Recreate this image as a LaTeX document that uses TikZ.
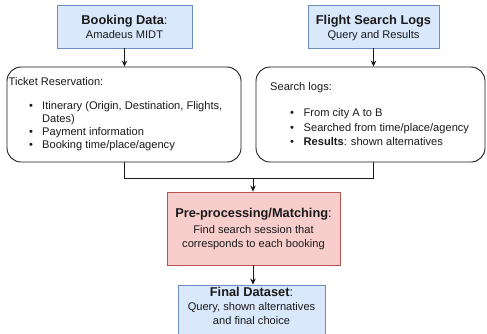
\documentclass[tikz,border=0pt]{standalone}
\usepackage{fontspec}
\setmainfont{Liberation Sans}
\usetikzlibrary{arrows.meta}
\definecolor{bluefill}{HTML}{DAE8FC}
\definecolor{blueline}{HTML}{6C8EBF}
\definecolor{redfill}{HTML}{F8CECC}
\definecolor{redline}{HTML}{B85450}
\definecolor{ink}{HTML}{1A1A1A}
\tikzset{
  box/.style={draw, line width=0.9pt, inner sep=0pt, minimum width=#1},
  bluebox/.style={box=#1, draw=blueline, fill=bluefill},
  redbox/.style={box=#1, draw=redline, fill=redfill},
  roundbox/.style={box=#1, draw=ink, fill=white, rounded corners=14pt},
  txt/.style={text=ink, inner sep=0pt, anchor=mid, font=\fontsize{11.1}{13}\selectfont},
  ttl/.style={text=ink, inner sep=0pt, anchor=mid, font=\fontsize{12.8}{15}\selectfont},
  item/.style={txt, anchor=mid west},
  conn/.style={draw=ink, line width=0.8pt},
  arr/.style={conn, -{Stealth[length=6pt,width=5.5pt]}}
}
\begin{document}
\begin{tikzpicture}[x=1pt,y=-1pt]
\useasboundingbox (0,0) rectangle (487,333);
\clip (0,0) rectangle (487,333);

% source boxes
\node[bluebox=135pt, minimum height=43pt] (book) at (124.5,26.5) {};
\node[ttl] (bookA) at (124.5,22) {\bfseries Booking Data\normalfont:};
\node[txt] (bookB) at (124.5,36) {Amadeus MIDT};

\node[bluebox=131pt, minimum height=43pt] (flight) at (373.5,26.5) {};
\node[ttl] (flightA) at (373.5,22) {\bfseries Flight Search Logs};
\node[txt] (flightB) at (373.5,36) {Query and Results};

% detail boxes
\node[roundbox=234pt, minimum height=95pt] (left) at (124,114.5) {};
\node[item] (lt) at (8.5,83) {Ticket Reservation:};
\node[item] (lb1) at (29,107) {•};
\node[item] (l1) at (42,107) {Itinerary (Origin, Destination, Flights,};
\node[item] (l1b) at (42,120) {Dates)};
\node[item] (lb2) at (29,133) {•};
\node[item] (l2) at (42,133) {Payment information};
\node[item] (lb3) at (29,146) {•};
\node[item] (l3) at (42,146) {Booking time/place/agency};

\node[roundbox=229pt, minimum height=95pt] (right) at (370.5,114.5) {};
\node[item] (rt) at (270,88) {Search logs:};
\node[item] (rb1) at (290,114) {•};
\node[item] (r1) at (303.5,114) {From city A to B};
\node[item] (rb2) at (290,128.5) {•};
\node[item] (r2) at (303.5,128.5) {Searched from time/place/agency};
\node[item] (rb3) at (290,143) {•};
\node[item] (r3) at (303.5,143) {\bfseries Results\normalfont: shown alternatives};

% processing and result
\node[redbox=173pt, minimum height=73pt] (proc) at (253.5,228.5) {};
\node[ttl] (procA) at (253.5,215) {\bfseries Pre-processing/Matching\normalfont:};
\node[txt] (procB) at (253.5,231) {Find search session that};
\node[txt] (procC) at (253.5,245) {corresponds to each booking};

\node[bluebox=147pt, minimum height=53pt] (final) at (251.5,311.5) {};
\node[ttl] (finA) at (251.5,293.5) {\bfseries Final Dataset\normalfont:};
\node[txt] (finB) at (251.5,308) {Query, shown alternatives};
\node[txt] (finC) at (251.5,322) {and final choice};

% connectors
\coordinate (join) at (253,178);
\draw[arr] (book.south) -- (book.south |- left.north);
\draw[arr] (flight.south) -- (flight.south |- right.north);
\draw[conn] (book.south |- left.south) |- (join);
\draw[conn] (flight.south |- right.south) |- (join);
\draw[arr] (join) -- (join |- proc.north);
\draw[arr] (join |- proc.south) -- (join |- final.north);
\end{tikzpicture}
\end{document}
